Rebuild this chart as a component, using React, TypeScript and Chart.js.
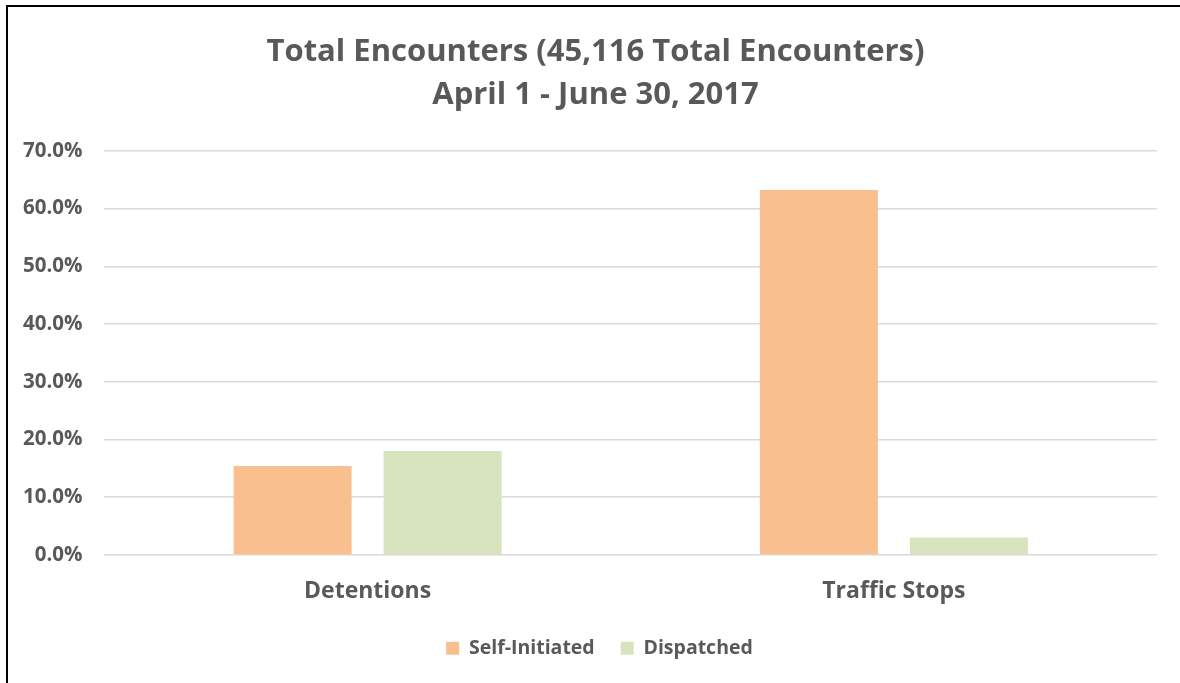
import React, { useEffect, useRef } from "react";
import { Chart, registerables } from "chart.js";

Chart.register(...registerables);

const categories = ["Detentions", "Traffic Stops"];
const selfInitiated = [15.4, 63.2];
const dispatched = [18.0, 3.0];
const seriesNames = ["Self-Initiated", "Dispatched"];
const titleLines = ["Total Encounters (45,116 Total Encounters)", "April 1 - June 30, 2017"];

const TEXT = "#595959";
const FONT = "'Open Sans', Lato, sans-serif";

// Excel-like placement: legend closer to the category labels, title & legend centred on the whole frame
const layoutTweaks = {
  id: "layoutTweaks",
  beforeLayout(chart: any) {
    const lg = chart.legend;
    if (lg && !lg._patched) {
      const origFit = lg.fit.bind(lg);
      const origDraw = lg.draw.bind(lg);
      lg.fit = function () {
        origFit();
        this.height -= 33;
      };
      lg.draw = function () {
        const ctx = this.ctx;
        ctx.save();
        ctx.translate(20.5, -16);
        if (typeof this._draw === "function") {
          if (this.options.display) this._draw();
        } else {
          origDraw();
        }
        ctx.restore();
      };
      lg._patched = true;
    }
    const tt = chart.titleBlock;
    if (tt && !tt._patched) {
      const origDraw = tt.draw.bind(tt);
      tt.draw = function () {
        const ctx = this.ctx;
        ctx.save();
        ctx.translate(16.5, 0);
        origDraw();
        ctx.restore();
      };
      tt._patched = true;
    }
  },
};

export default function App() {
  const ref = useRef<HTMLCanvasElement | null>(null);
  useEffect(() => {
    if (!ref.current) return;
    const chart = new Chart(ref.current, {
      type: "bar",
      data: {
        labels: categories,
        datasets: [
          {
            label: seriesNames[0],
            data: selfInitiated,
            backgroundColor: "#F9BF8F",
            categoryPercentage: 0.57,
            barPercentage: 0.787,
          },
          {
            label: seriesNames[1],
            data: dispatched,
            backgroundColor: "#D8E4BD",
            categoryPercentage: 0.57,
            barPercentage: 0.787,
          },
        ],
      },
      plugins: [layoutTweaks],
      options: {
        responsive: false,
        animation: false,
        layout: { padding: { left: 1, right: 23, top: 0, bottom: 32 } },
        plugins: {
          title: {
            display: true,
            text: titleLines,
            color: TEXT,
            font: { family: FONT, size: 31, weight: "bold", lineHeight: 1.4 },
            padding: { top: 30, bottom: 34 },
          },
          legend: {
            position: "bottom",
            labels: {
              color: TEXT,
              font: { family: FONT, size: 19.5, weight: "bold" },
              boxWidth: 13,
              boxHeight: 13,
              padding: 26,
            },
          },
          tooltip: { enabled: false },
        },
        scales: {
          x: {
            grid: { display: false, drawTicks: false },
            border: { display: false },
            ticks: {
              color: TEXT,
              font: { family: FONT, size: 23, weight: "bold" },
              padding: 23,
            },
          },
          y: {
            min: 0,
            max: 70,
            grid: { color: "#D9D9D9", lineWidth: 1.5, drawTicks: false },
            border: { display: false },
            ticks: {
              stepSize: 10,
              color: TEXT,
              font: { family: FONT, size: 20.5, weight: "bold" },
              padding: 22,
              callback: (v: any) => Number(v).toFixed(1) + "%",
            },
          },
        },
      },
    });
    return () => chart.destroy();
  }, []);

  return (
    <div style={{ position: "fixed", left: 0, top: 0, width: 1180, height: 683, background: "#fff", overflow: "hidden" }}>
      <canvas ref={ref} width={1180} height={683} style={{ position: "absolute", left: 0, top: 0 }} />
      <div
        style={{
          position: "absolute",
          left: 6,
          top: 5,
          width: 1200,
          height: 700,
          borderLeft: "2.5px solid #000",
          borderTop: "2.5px solid #000",
          pointerEvents: "none",
        }}
      />
    </div>
  );
}
